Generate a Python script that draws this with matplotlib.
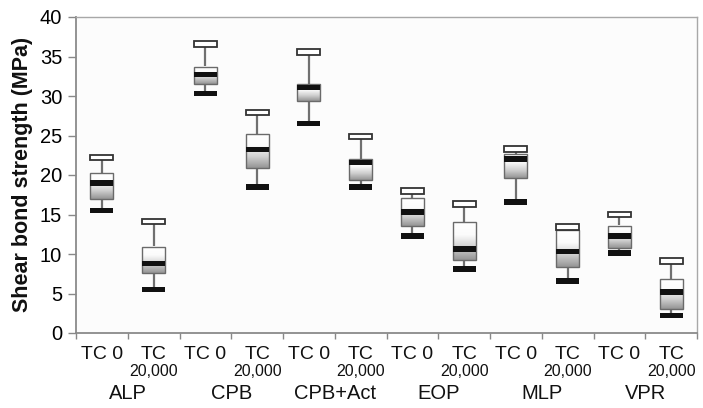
import numpy as np
import matplotlib
matplotlib.use("Agg")
import matplotlib.pyplot as plt
from matplotlib.colors import LinearSegmentedColormap
import matplotlib.transforms as mtransforms

# data (MPa)
groups = ['ALP', 'CPB', 'CPB+Act', 'EOP', 'MLP', 'VPR']
cycles = ['TC 0', 'TC 20,000']
whisker_max = [22.2, 14.1, 36.6, 27.9, 35.6, 24.9, 18.0, 16.3, 23.3, 13.4, 15.0, 9.1]
q3 = [20.2, 10.9, 33.7, 25.2, 31.5, 22.0, 17.1, 14.0, 22.6, 13.0, 13.6, 6.8]
median = [19.0, 8.8, 32.7, 23.2, 31.1, 21.6, 15.3, 10.6, 22.0, 10.3, 12.3, 5.2]
q1 = [17.0, 7.6, 31.5, 20.9, 29.4, 19.4, 13.6, 9.2, 19.6, 8.4, 10.8, 3.1]
whisker_min = [15.5, 5.5, 30.3, 18.5, 26.5, 18.5, 12.3, 8.1, 16.6, 6.6, 10.1, 2.2]

plt.rcParams['font.family'] = ['Liberation Sans', 'DejaVu Sans']

fig = plt.figure(figsize=(7.03, 4.08), dpi=100)
ax = fig.add_axes([76 / 703, 1 - 333 / 408, 621 / 703, 316 / 408])
ax.set_facecolor('#fcfcfc')

n = len(median)
x = np.arange(n) + 0.5
box_w = 0.44
bar_h = 0.7
grad = LinearSegmentedColormap.from_list('g', ['#959595', '#d0d0d0', '#fbfbfb', '#ffffff'])
gvals = np.linspace(0, 1, 64).reshape(-1, 1)

ax.vlines(x, whisker_min, whisker_max, color='#707070', lw=1.6, zorder=2)
for xi, lo, hi in zip(x, q1, q3):
    ax.imshow(gvals, cmap=grad, origin='lower', aspect='auto',
              extent=[xi - box_w / 2, xi + box_w / 2, lo, hi], zorder=3)
ax.bar(x, np.array(q3) - np.array(q1), bottom=q1, width=box_w,
       facecolor='none', edgecolor='#6a6a6a', lw=1.0, zorder=4)
ax.bar(x, bar_h, bottom=np.array(median) - bar_h / 2, width=box_w,
       color='#111111', lw=0, zorder=5)
ax.bar(x, bar_h, bottom=np.array(whisker_min) - bar_h / 2, width=box_w,
       color='#111111', lw=0, zorder=5)
ax.bar(x, bar_h, bottom=np.array(whisker_max) - bar_h / 2, width=box_w,
       facecolor='white', edgecolor='#333333', lw=1.3, zorder=5)

ax.set_xlim(0, n)
ax.set_ylim(0, 40)
ax.set_yticks(np.arange(0, 41, 5))
ax.tick_params(axis='y', labelsize=14.5, length=6, width=1, color='#888888',
               direction='out', pad=4)
ax.set_xticks(np.arange(0, n + 1))
ax.set_xticklabels([])
ax.tick_params(axis='x', length=4, width=1, color='#888888', direction='out')
for s in ['left', 'bottom']:
    ax.spines[s].set_color('#8a8a8a')
    ax.spines[s].set_linewidth(1.3)
for s in ['top', 'right']:
    ax.spines[s].set_color('#a8a8a8')
    ax.spines[s].set_linewidth(1.0)

trans = mtransforms.blended_transform_factory(ax.transData, ax.transAxes)
for i, xi in enumerate(x):
    if i % 2 == 0:
        ax.text(xi, -0.069, cycles[0], transform=trans, ha='center', va='center',
                fontsize=14, color='#111111')
    else:
        tc, num = cycles[1].split(' ')
        ax.text(xi, -0.069, tc, transform=trans, ha='center', va='center',
                fontsize=14, color='#111111')
        ax.text(xi, -0.122, num, transform=trans, ha='center', va='center',
                fontsize=11.5, color='#111111')
for j, g in enumerate(groups):
    ax.text(2 * j + 1, -0.193, g, transform=trans, ha='center', va='center',
            fontsize=14.5, color='#111111')

fig.text(23 / 703, 1 - 174 / 408, 'Shear bond strength (MPa)', rotation=90,
         ha='center', va='center', fontsize=15.5, fontweight='bold', color='#111111')

fig.savefig('out.png', dpi=100)
